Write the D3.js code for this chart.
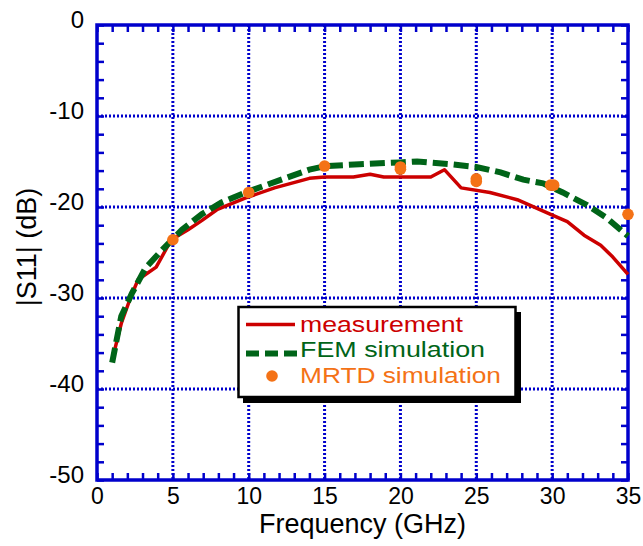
<!DOCTYPE html>
<html><head><meta charset="utf-8">
<script src="https://cdn.jsdelivr.net/npm/d3@7"></script>
<style>
html,body{margin:0;padding:0;background:#fff;}
svg{display:block;font-family:"Liberation Sans",Arial,Helvetica,sans-serif;}
</style></head>
<body><svg id="c" width="643" height="546"></svg>
<script>
// ---- data ----
const measFreq = [1.0,1.6,2.2,2.7,3.9,4.9,6.0,6.9,7.9,9.8,11.7,14.0,15.0,16.9,18.0,18.9,22.0,22.9,24.0,25.9,27.7,29.9,31.0,32.1,33.2,34.0,35.0];
const measS11  = [-36.8,-32.8,-30.0,-28.0,-26.6,-23.6,-22.5,-21.5,-20.3,-19.0,-17.9,-16.85,-16.7,-16.7,-16.4,-16.7,-16.7,-15.9,-17.9,-18.4,-19.2,-20.8,-21.6,-23.1,-24.2,-25.5,-27.4];
const femFreq  = [1.0,1.6,2.3,3.2,4.3,5.6,6.9,8.2,9.8,11.3,14.0,15.1,17.3,20.0,21.1,23.3,25.0,26.6,28.1,29.4,30.7,32.3,33.6,35.0];
const femS11   = [-37.1,-32.0,-29.5,-26.7,-24.7,-22.5,-20.8,-19.5,-18.4,-17.5,-15.9,-15.5,-15.3,-15.1,-15.0,-15.3,-15.6,-16.2,-17.0,-17.4,-18.4,-19.8,-21.2,-23.2];
const mrtdFreq = [5,10,15,20,20,25,25,29.9,30.1,35];
const mrtdS11  = [-23.6,-18.4,-15.5,-15.6,-15.85,-16.9,-17.2,-17.6,-17.6,-20.8];
const xTicks = [0,5,10,15,20,25,30,35];
const yTicks = [0,-10,-20,-30,-40,-50];
const legendLabels = ["measurement","FEM simulation","MRTD simulation"];
const xTitle = "Frequency (GHz)";
const yTitle = "|S11| (dB)";

// ---- layout ----
const L=97, R=628, T=25, B=480;
const blue="#0000cc", red="#cc0000", green="#006418", orange="#f47216";
const svg=d3.select("#c");
const x=d3.scaleLinear().domain([0,35]).range([L,R]);
const y=d3.scaleLinear().domain([-50,0]).range([B,T]);
const fmt=d=>String(d);

// grid
const g=svg.append("g");
g.selectAll(".gx").data(xTicks.slice(1,-1)).enter().append("line")
 .attr("x1",d=>x(d)).attr("x2",d=>x(d)).attr("y1",T).attr("y2",B)
 .attr("stroke",blue).attr("stroke-width",3).attr("stroke-dasharray","2,2");
g.selectAll(".gy").data(yTicks.slice(1,-1)).enter().append("line")
 .attr("y1",d=>y(d)).attr("y2",d=>y(d)).attr("x1",L).attr("x2",R)
 .attr("stroke",blue).attr("stroke-width",3).attr("stroke-dasharray","2,2");

// inner ticks (minor every 1 GHz / 2 dB)
const xMinor=d3.range(0,36,1), yMinor=d3.range(-50,1,2);
function styleAxis(sel){sel.select(".domain").remove();sel.selectAll("line").attr("stroke",blue).attr("stroke-width",2.5);sel.selectAll("text").remove();}
svg.append("g").attr("transform",`translate(0,${B})`).call(d3.axisBottom(x).tickValues(xMinor).tickSize(-7)).call(styleAxis);
svg.append("g").attr("transform",`translate(0,${T})`).call(d3.axisTop(x).tickValues(xMinor).tickSize(-7)).call(styleAxis);
svg.append("g").attr("transform",`translate(${L},0)`).call(d3.axisLeft(y).tickValues(yMinor).tickSize(-7)).call(styleAxis);
svg.append("g").attr("transform",`translate(${R},0)`).call(d3.axisRight(y).tickValues(yMinor).tickSize(-7)).call(styleAxis);

// frame
svg.append("rect").attr("x",L).attr("y",T).attr("width",R-L).attr("height",B-T)
 .attr("fill","none").attr("stroke",blue).attr("stroke-width",3.5);

// tick labels
const xa=svg.append("g").attr("transform",`translate(0,${B})`).call(d3.axisBottom(x).tickValues(xTicks).tickSize(0).tickPadding(7).tickFormat(fmt));
xa.select(".domain").remove();
xa.selectAll("text").attr("font-size",23).attr("fill","#000").attr("font-family","Liberation Sans, Arial, sans-serif").attr("dy","0.72em");
const ya=svg.append("g").attr("transform",`translate(${L},0)`).call(d3.axisLeft(y).tickValues(yTicks).tickSize(0).tickPadding(13).tickFormat(fmt));
ya.select(".domain").remove();
ya.selectAll("text").attr("font-size",24).attr("fill","#000").attr("font-family","Liberation Sans, Arial, sans-serif").attr("dy","0.1em");

// titles
svg.append("text").attr("x",(L+R)/2).attr("y",533).attr("text-anchor","middle").attr("font-size",27).text(xTitle);
svg.append("text").attr("transform","translate(36,247) rotate(-90)").attr("text-anchor","middle").attr("font-size",27).text(yTitle);

// series
const line=d3.line().x(d=>x(d[0])).y(d=>y(d[1]));
svg.append("path").datum(d3.zip(measFreq,measS11)).attr("d",line)
 .attr("fill","none").attr("stroke",red).attr("stroke-width",3.5).attr("stroke-linejoin","round");
svg.append("path").datum(d3.zip(femFreq,femS11)).attr("d",line)
 .attr("fill","none").attr("stroke",green).attr("stroke-width",6).attr("stroke-dasharray","15,6");
svg.selectAll(".m").data(d3.zip(mrtdFreq,mrtdS11)).enter().append("circle")
 .attr("cx",d=>x(d[0])).attr("cy",d=>y(d[1])).attr("r",5.8).attr("fill",orange);

// legend
const lg=svg.append("g");
lg.append("rect").attr("x",243).attr("y",312).attr("width",278).attr("height",91).attr("fill","#000");
lg.append("rect").attr("x",238.5).attr("y",307).attr("width",277).attr("height",90).attr("fill","#fff").attr("stroke","#000").attr("stroke-width",2.5);
lg.append("line").attr("x1",246).attr("x2",295).attr("y1",324.5).attr("y2",324.5).attr("stroke",red).attr("stroke-width",3.5);
lg.append("line").attr("x1",246).attr("x2",297).attr("y1",353.5).attr("y2",353.5).attr("stroke",green).attr("stroke-width",6).attr("stroke-dasharray","13,6");
lg.append("circle").attr("cx",272).attr("cy",376).attr("r",5.8).attr("fill",orange);
const lc=[red,green,orange], lb=[331.5,357,383], lw=[163,185,201];
legendLabels.forEach((t,i)=>{
  lg.append("text").attr("x",300).attr("y",lb[i]).attr("font-size",22).attr("fill",lc[i])
   .attr("textLength",lw[i]).attr("lengthAdjust","spacingAndGlyphs").text(t);
});
</script></body></html>
